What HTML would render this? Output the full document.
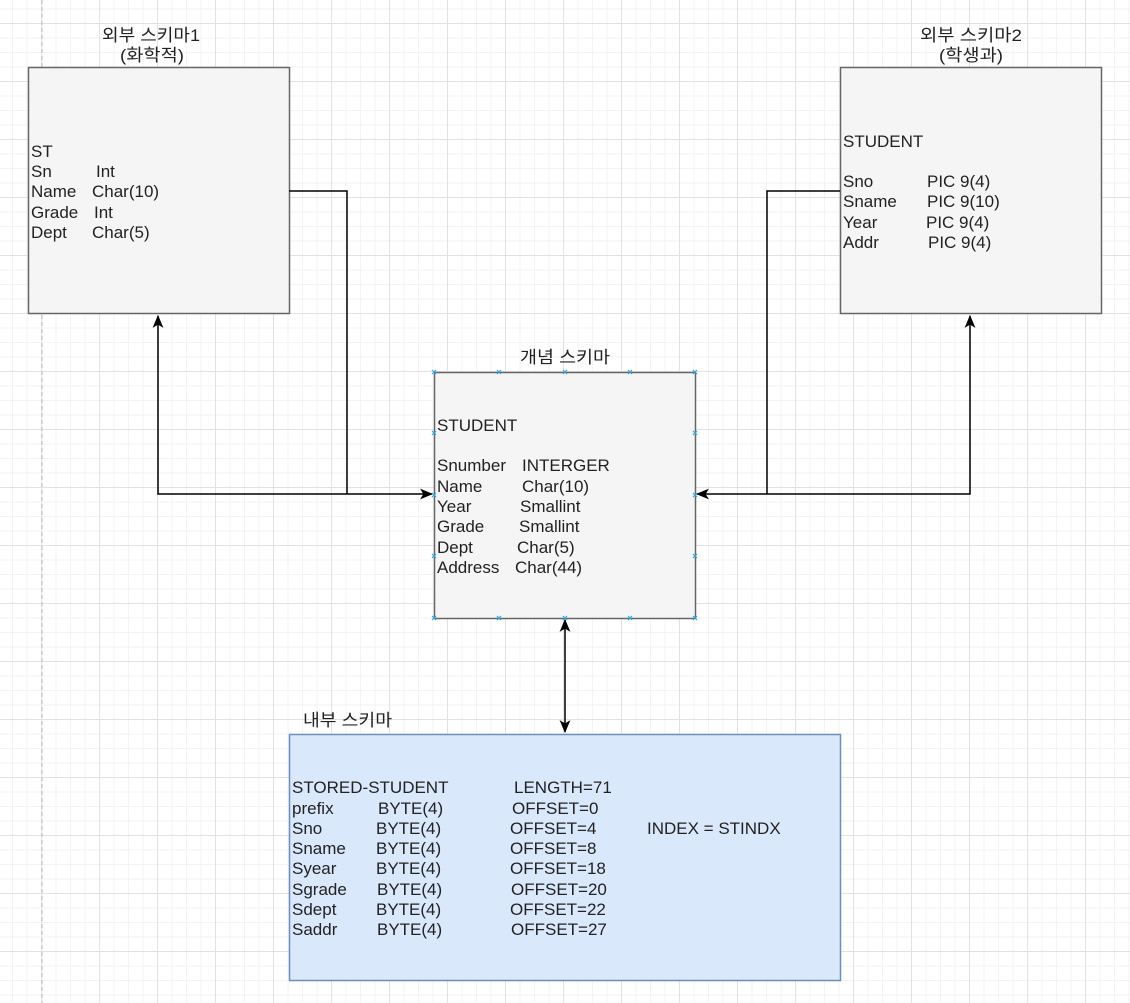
<!DOCTYPE html>
<html><head><meta charset="utf-8"><style>
html,body{margin:0;padding:0;}
body{width:1130px;height:1003px;overflow:hidden;background:#fff;
background-image:
linear-gradient(to right,#e2e2e2 1px,transparent 1px),
linear-gradient(to bottom,#e2e2e2 1px,transparent 1px),
linear-gradient(to right,#f3f3f3 1px,transparent 1px),
linear-gradient(to bottom,#f3f3f3 1px,transparent 1px);
background-size:58px 58px,58px 58px,14.5px 14.5px,14.5px 14.5px;
background-position:41px 23px,41px 23px,41px 23px,41px 23px;}
svg{position:absolute;left:0;top:0;}
text{font-family:"Liberation Sans","Noto Sans CJK KR",sans-serif;font-size:17px;fill:#222;}
text.k{font-size:17px;}
</style></head><body>
<svg width="1130" height="1003" viewBox="0 0 1130 1003">
<defs>
<marker id="a" viewBox="0 0 12 10" refX="11" refY="5" markerWidth="13" markerHeight="11" markerUnits="userSpaceOnUse" orient="auto-start-reverse">
<path d="M0,0 L12,5 L0,10 L3,5 Z" fill="#000"/></marker>
</defs>
<line x1="42" y1="0" x2="42" y2="1003" stroke="#bbb" stroke-width="1" stroke-dasharray="4,3"/>
<rect x="28.5" y="67.5" width="261" height="246" fill="#f5f5f5" stroke="#666" stroke-width="1.5"/>
<rect x="840.5" y="67.5" width="261" height="246" fill="#f5f5f5" stroke="#666" stroke-width="1.5"/>
<rect x="434.5" y="372.5" width="261" height="246" fill="#f5f5f5" stroke="#666" stroke-width="1.5"/>
<rect x="289.5" y="734.5" width="551" height="246" fill="#dae8fc" stroke="#6c8ebf" stroke-width="1.5"/>
<g fill="none" stroke="#000" stroke-width="1.5">
<polyline points="158,316 158,494 432,494" marker-start="url(#a)" marker-end="url(#a)"/>
<polyline points="289,191 347,191 347,494"/>
<polyline points="970,316 970,494 697,494" marker-start="url(#a)" marker-end="url(#a)"/>
<polyline points="840,191 767,191 767,494"/>
<line x1="565" y1="620" x2="565" y2="732" marker-start="url(#a)" marker-end="url(#a)"/>
</g>
<g stroke="#29a8e0" stroke-width="1.2">
<path d="M432,370l4,4m0,-4l-4,4M497,370l4,4m0,-4l-4,4M563,370l4,4m0,-4l-4,4M628,370l4,4m0,-4l-4,4M693,370l4,4m0,-4l-4,4
M432,616l4,4m0,-4l-4,4M497,616l4,4m0,-4l-4,4M563,616l4,4m0,-4l-4,4M628,616l4,4m0,-4l-4,4M693,616l4,4m0,-4l-4,4
M432,431l4,4m0,-4l-4,4M432,493l4,4m0,-4l-4,4M432,554l4,4m0,-4l-4,4
M693,431l4,4m0,-4l-4,4M693,493l4,4m0,-4l-4,4M693,554l4,4m0,-4l-4,4"/>
</g>
<text class="k" x="102" y="41" textLength="98" lengthAdjust="spacingAndGlyphs">외부 스키마1</text>
<text class="k" x="120" y="61" textLength="64" lengthAdjust="spacingAndGlyphs">(화학적)</text>
<text class="k" x="920" y="41" textLength="102" lengthAdjust="spacingAndGlyphs">외부 스키마2</text>
<text class="k" x="939" y="61" textLength="64" lengthAdjust="spacingAndGlyphs">(학생과)</text>
<text class="k" x="520" y="363" textLength="90" lengthAdjust="spacingAndGlyphs">개념 스키마</text>
<text class="k" x="303" y="726" textLength="89" lengthAdjust="spacingAndGlyphs">내부 스키마</text>
<text x="31" y="157">ST</text>
<text x="31" y="177">Sn</text><text x="96" y="177">Int</text>
<text x="31" y="197">Name</text><text x="92" y="197">Char(10)</text>
<text x="31" y="218">Grade</text><text x="94" y="218">Int</text>
<text x="31" y="238">Dept</text><text x="92" y="238">Char(5)</text>
<text x="843" y="147">STUDENT</text>
<text x="843" y="187">Sno</text><text x="927" y="187">PIC 9(4)</text>
<text x="843" y="207">Sname</text><text x="927" y="207">PIC 9(10)</text>
<text x="843" y="228">Year</text><text x="926" y="228">PIC 9(4)</text>
<text x="843" y="248">Addr</text><text x="928" y="248">PIC 9(4)</text>
<text x="437" y="431">STUDENT</text>
<text x="437" y="471">Snumber</text><text x="522" y="471">INTERGER</text>
<text x="437" y="492">Name</text><text x="522" y="492">Char(10)</text>
<text x="437" y="512">Year</text><text x="520" y="512">Smallint</text>
<text x="437" y="532">Grade</text><text x="519" y="532">Smallint</text>
<text x="437" y="553">Dept</text><text x="517" y="553">Char(5)</text>
<text x="437" y="573">Address</text><text x="515" y="573">Char(44)</text>
<text x="292" y="793">STORED-STUDENT</text><text x="514" y="793">LENGTH=71</text>
<text x="292" y="814">prefix</text><text x="378" y="814">BYTE(4)</text><text x="512" y="814">OFFSET=0</text>
<text x="292" y="834">Sno</text><text x="376" y="834">BYTE(4)</text><text x="510" y="834">OFFSET=4</text><text x="647" y="834">INDEX = STINDX</text>
<text x="292" y="854">Sname</text><text x="376" y="854">BYTE(4)</text><text x="510" y="854">OFFSET=8</text>
<text x="292" y="874">Syear</text><text x="376" y="874">BYTE(4)</text><text x="510" y="874">OFFSET=18</text>
<text x="292" y="895">Sgrade</text><text x="377" y="895">BYTE(4)</text><text x="511" y="895">OFFSET=20</text>
<text x="292" y="915">Sdept</text><text x="376" y="915">BYTE(4)</text><text x="510" y="915">OFFSET=22</text>
<text x="292" y="935">Saddr</text><text x="377" y="935">BYTE(4)</text><text x="511" y="935">OFFSET=27</text>
</svg>
</body></html>
